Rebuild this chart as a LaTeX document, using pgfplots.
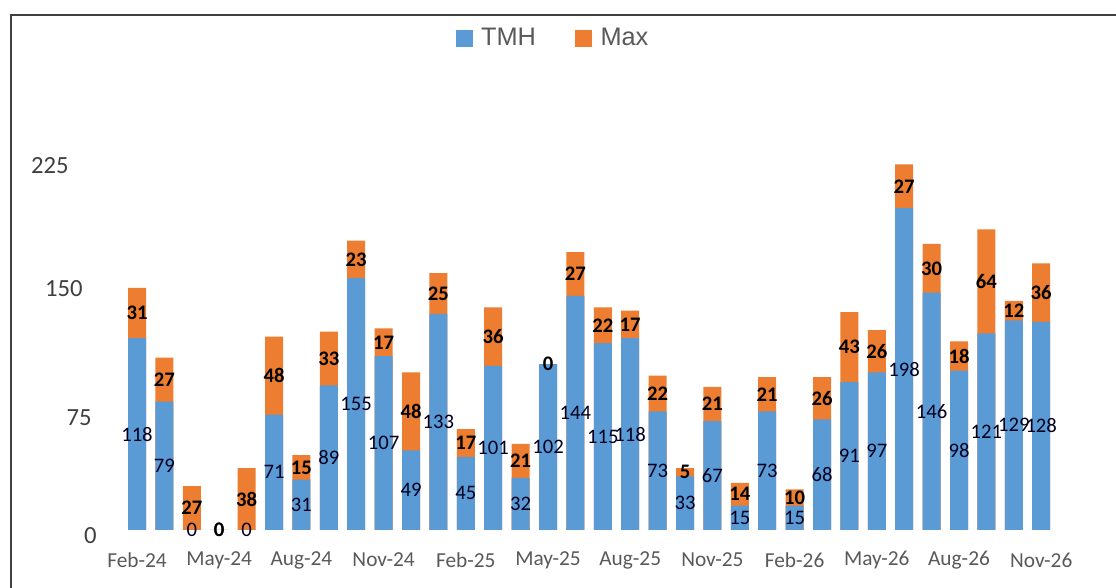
\documentclass[border=0pt]{standalone}
\usepackage{pgfplots}
\pgfplotsset{compat=1.18}
\usepackage{pgfplotstable}
\usepackage{fontspec}
\setmainfont{Carlito}
\newfontfamily\legendfont{Liberation Sans}
\definecolor{tmhblue}{HTML}{5B9BD5}
\definecolor{maxorange}{HTML}{ED7D31}
\definecolor{txtgray}{HTML}{595959}
\definecolor{ygray}{HTML}{404040}
\definecolor{framegray}{HTML}{404040}

\pgfplotstableread{
i tmh max
1 118 31
2 79 27
3 0 27
4 0 0
5 0 38
6 71 48
7 31 15
8 89 33
9 155 23
10 107 17
11 49 48
12 133 25
13 45 17
14 101 36
15 32 21
16 102 0
17 144 27
18 115 22
19 118 17
20 73 22
21 33 5
22 67 21
23 15 14
24 73 21
25 15 10
26 68 26
27 91 43
28 97 26
29 198 27
30 146 30
31 98 18
32 121 64
33 129 12
34 128 36
}\data

\begin{document}
\begin{tikzpicture}
\path[use as bounding box] (0pt,0pt) rectangle (837pt,441pt);
\draw[framegray, line width=1.5pt, line join=miter] (8.25pt,-2pt) -- (8.25pt,429.75pt) -- (840pt,429.75pt);
\begin{axis}[
  at={(82.2pt,43.5pt)}, anchor=south west,
  scale only axis, width=719.25pt, height=304.7pt,
  xmin=0, xmax=35, ymin=0, ymax=250,
  axis line style={draw=none}, tick style={draw=none},
  clip=false,
  xtick={1,4,...,34},
  xticklabels={Feb-24,May-24,Aug-24,Nov-24,Feb-25,May-25,Aug-25,Nov-25,Feb-26,May-26,Aug-26,Nov-26},
  xticklabel style={anchor=center, inner sep=0pt, yshift=-22.5pt, font=\fontsize{16}{19}\selectfont, text=txtgray},
  ytick={0,75,150,225},
  yticklabels={\raisebox{-10.35pt}[0pt][0pt]{0},\raisebox{-12.85pt}[0pt][0pt]{75\hspace*{3.75pt}},\raisebox{-7.95pt}[0pt][0pt]{150\hspace*{10.5pt}},\raisebox{-6.65pt}[0pt][0pt]{225\hspace*{21pt}}},
  yticklabel style={anchor=east, inner sep=0pt, xshift=-9.45pt, font=\fontsize{18.5}{21}\selectfont, text=ygray},
  legend columns=2,
  legend style={at={(0.4613,1.2111)}, anchor=center, draw=none, fill=none, inner sep=0pt,
    font=\legendfont\fontsize{19}{23}\selectfont,
    nodes={inner sep=0pt, text=txtgray},
    /tikz/every odd column/.append style={column sep=6.75pt},
    /tikz/every even column/.append style={column sep=29.25pt}},
]
\addlegendimage{legend image code/.code={\fill[tmhblue] (0pt,-6pt) rectangle (12pt,6pt);}}
\addlegendentry{TMH}
\addlegendimage{legend image code/.code={\fill[maxorange] (0pt,-6pt) rectangle (12pt,6pt);}}
\addlegendentry{Max}

\addplot[ybar, bar width=13.5pt, bar shift=0pt, fill=maxorange, draw=none, forget plot]
  table[x=i, y expr=\thisrow{tmh}+\thisrow{max}] {\data};
\addplot[ybar, bar width=13.5pt, bar shift=0pt, fill=tmhblue, draw=none, forget plot]
  table[x=i, y=tmh] {\data};

\addplot[draw=none, mark=none, forget plot, nodes near coords, point meta=explicit symbolic,
  nodes near coords style={anchor=center, inner sep=0pt, font=\fontsize{15.5}{18}\selectfont, text=black!88!blue}]
  table[x=i, y expr=\thisrow{tmh}/2, meta=tmh] {\data};
\addplot[draw=none, mark=none, forget plot, nodes near coords, point meta=explicit symbolic,
  nodes near coords style={anchor=center, inner sep=0pt, font=\bfseries\fontsize{15.5}{18}\selectfont, text=black}]
  table[x=i, y expr=\thisrow{tmh}+\thisrow{max}/2, meta=max] {\data};
\end{axis}
\end{tikzpicture}
\end{document}
